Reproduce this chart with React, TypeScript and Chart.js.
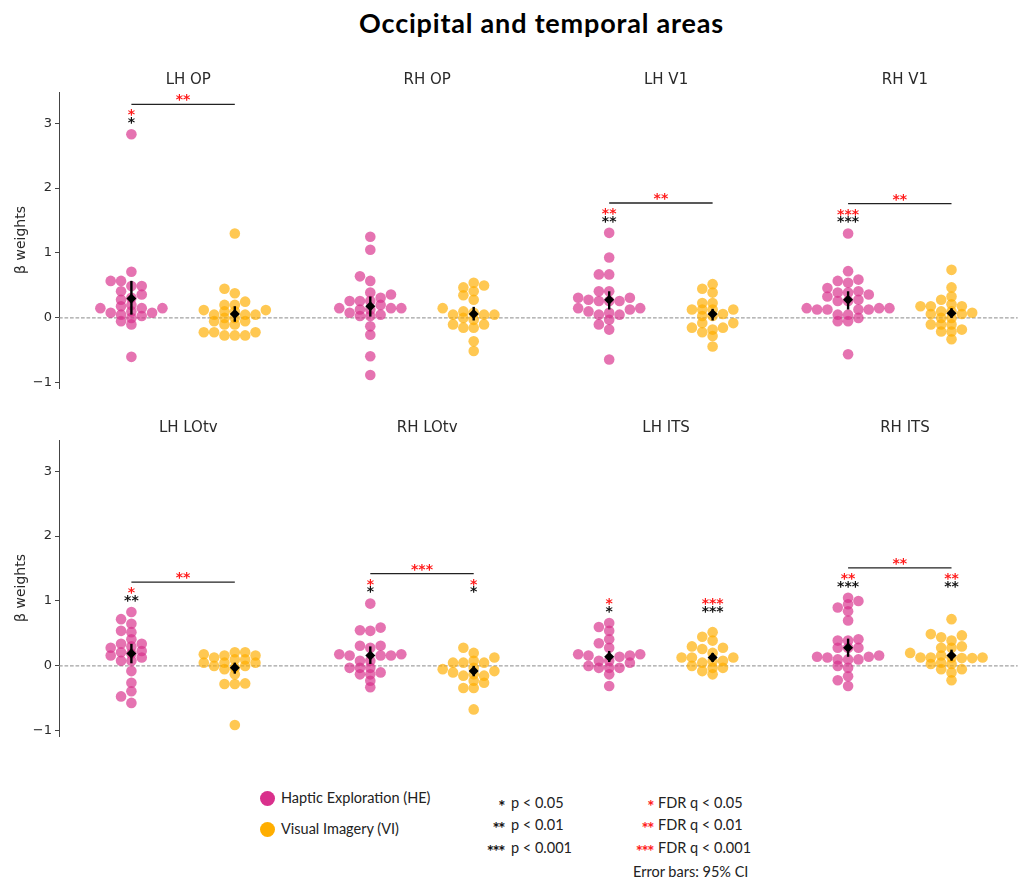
import React, { useEffect, useRef } from 'react';
import { Chart, registerables } from 'chart.js';

Chart.register(...registerables);

// ---- regions and beta weights (one array per region and condition) ----
const regions = ['LH OP', 'RH OP', 'LH V1', 'RH V1', 'LH LOtv', 'RH LOtv', 'LH ITS', 'RH ITS'];
const yTicks = [-1, 0, 1, 2, 3];

const lhOpHE = [0.49, 0.36, 0.15, -0.05, 0.15, 0.05, 0.57, 0.2, -0.1, 2.83, 0.71, 0.31, 0.03, -0.6, 0.57, 0.15, 0.0, 0.1, 0.08, 0.49, 0.41, 0.28, 0.18, 0.08];
const lhOpVI = [1.3, 0.45, 0.38, 0.25, 0.05, -0.05, 0.2, 0.1, 0.0, -0.1, -0.22, -0.22, 0.12, 0.05, 0.1, 0.05, -0.05, -0.27, -0.27, -0.27, 0.2, 0.12, 0.0, -0.1, -0.22];
const rhOpHE = [1.25, 1.05, 0.64, 0.57, 0.31, 0.15, -0.13, -0.26, -0.59, -0.88, 0.03, 0.26, 0.13, 0.36, 0.26, 0.15, 0.08, 0.03, 0.2, 0.13, 0.39, 0.26, 0.15, 0.05];
const rhOpVI = [0.54, 0.47, 0.41, 0.28, 0.15, 0.05, -0.15, -0.36, -0.51, 0.1, 0.0, -0.1, -0.15, 0.05, 0.05, 0.08, -0.03, -0.1, 0.5, 0.35];
const lhV1HE = [1.31, 0.93, 0.28, 0.05, -0.03, -0.1, -0.18, -0.64, 0.67, 0.41, 0.31, 0.26, 0.05, 0.31, 0.13, 0.15, 0.15, 0.26, 0.08, 0.67, 0.41, 0.26, 0.1];
const lhV1VI = [0.52, 0.39, 0.06, -0.15, -0.28, -0.44, 0.13, 0.13, 0.23, 0.13, 0.03, -0.08, -0.18, 0.23, 0.13, 0.03, -0.08, -0.15, 0.45, -0.22];
const rhV1HE = [1.3, 0.72, 0.59, 0.28, 0.13, 0.0, -0.56, 0.39, 0.39, 0.13, 0.15, 0.13, 0.13, 0.54, 0.41, 0.33, 0.26, 0.15, 0.05, -0.05, 0.57, 0.46, 0.36, 0.26, 0.15, 0.05, -0.05];
const rhV1VI = [0.74, 0.47, 0.06, -0.1, -0.21, -0.33, 0.33, 0.21, 0.1, 0.0, -0.1, -0.21, 0.28, 0.18, 0.1, 0.0, -0.1, -0.18, 0.06, 0.18, 0.18, 0.08];
const lhLotvHE = [0.83, 0.72, 0.65, 0.41, 0.34, 0.19, -0.08, -0.26, -0.39, -0.47, -0.57, 0.08, 0.08, 0.54, 0.28, 0.21, 0.13, 0.52, 0.34, 0.23, 0.16, 0.3];
const lhLotvVI = [0.21, 0.1, 0.0, -0.28, 0.16, 0.05, 0.21, 0.13, -0.03, -0.13, -0.27, -0.91, 0.18, 0.05, 0.16, 0.05, -0.05, -0.28, 0.1, 0.0];
const rhLotvHE = [0.96, 0.59, 0.28, 0.16, -0.03, -0.13, -0.23, -0.33, 0.16, 0.16, 0.55, 0.31, 0.18, 0.08, -0.03, -0.13, 0.54, 0.31, 0.18, 0.08, -0.03, -0.1];
const rhLotvVI = [0.28, 0.13, -0.08, -0.15, -0.67, 0.05, 0.05, 0.08, -0.03, -0.13, -0.23, -0.34, 0.05, -0.05, -0.15, -0.26, -0.34, 0.2, -0.1];
const lhItsHE = [0.66, 0.54, 0.41, 0.28, 0.14, -0.03, -0.13, -0.31, 0.16, 0.16, 0.18, 0.08, -0.03, 0.18, 0.08, -0.03, 0.6, 0.35, 0.0, 0.05];
const lhItsVI = [0.52, 0.39, 0.13, 0.0, -0.13, 0.08, 0.07, 0.26, 0.13, -0.03, 0.28, 0.13, -0.03, 0.45, 0.3, -0.08, 0.05, 0.2];
const rhItsHE = [1.05, 0.95, 0.84, 0.7, 0.39, 0.28, 0.1, -0.03, -0.16, -0.31, 0.1, 0.1, 0.14, 0.14, 0.41, 0.28, 0.13, 0.39, 0.28, 0.16, 1.0, 0.9, -0.22, 0.0];
const rhItsVI = [0.72, 0.49, 0.39, 0.16, 0.03, -0.05, -0.22, 0.13, 0.13, 0.12, 0.12, 0.44, 0.28, 0.13, 0.03, -0.1, 0.47, 0.28, 0.13, 0.05, -0.05, 0.3, 0.2];

const heValues = [lhOpHE, rhOpHE, lhV1HE, rhV1HE, lhLotvHE, rhLotvHE, lhItsHE, rhItsHE];
const viValues = [lhOpVI, rhOpVI, lhV1VI, rhV1VI, lhLotvVI, rhLotvVI, lhItsVI, rhItsVI];

// group means with 95% confidence intervals
const heMean = [0.3, 0.18, 0.28, 0.28, 0.19, 0.16, 0.14, 0.28];
const heCiLow = [0.05, 0.02, 0.13, 0.13, 0.04, 0.03, 0.06, 0.14];
const heCiHigh = [0.57, 0.33, 0.41, 0.41, 0.34, 0.3, 0.23, 0.42];
const viMean = [0.06, 0.06, 0.06, 0.07, -0.03, -0.08, 0.13, 0.16];
const viCiLow = [-0.06, -0.04, -0.04, 0.0, -0.12, -0.16, 0.06, 0.08];
const viCiHigh = [0.18, 0.17, 0.14, 0.15, 0.05, 0.0, 0.2, 0.25];

// number of stars: uncorrected p, FDR q, and HE vs VI comparison (FDR)
const heP = [1, 0, 2, 3, 2, 1, 1, 3];
const heQ = [1, 0, 2, 3, 1, 1, 1, 2];
const viP = [0, 0, 0, 0, 0, 1, 3, 2];
const viQ = [0, 0, 0, 0, 0, 1, 3, 2];
const diffQ = [2, 0, 2, 2, 2, 3, 0, 2];

// ---- styling ----
const HE_COLOR = 'rgba(217, 48, 140, 0.68)';
const VI_COLOR = 'rgba(255, 174, 0, 0.68)';
const PANEL_STRIDE = 2.31;
const X_MIN = -0.7;
const X_MAX = 8.57;
const Y_MIN = -1.08;
const Y_MAX = 3.48;
const TEXT_COLOR = '#2a2a2a';

// beeswarm-like column layout: returns x offsets (category units) for each value
function swarmOffsets(values: number[], colStep: number, minGap: number): number[] {
  const order = values.map((_, i) => i).sort((a, b) => values[a] - values[b]);
  const placed: { col: number; y: number }[] = [];
  const out = new Array(values.length).fill(0);
  for (const i of order) {
    const v = values[i];
    for (let k = 0; k < 60; k++) {
      const col = k === 0 ? 0 : k % 2 === 1 ? -Math.ceil(k / 2) : Math.ceil(k / 2);
      const clash = placed.some((p) => p.col === col && Math.abs(p.y - v) < minGap);
      if (!clash) {
        placed.push({ col, y: v });
        out[i] = col * colStep;
        break;
      }
    }
  }
  return out;
}

function starText(n: number) {
  return '*'.repeat(n);
}

function RowChart({ panels, top, height, padTop }: { panels: number[]; top: number; height: number; padTop: number }) {
  const ref = useRef<HTMLCanvasElement>(null);

  useEffect(() => {
    if (!ref.current) return;

    const hePoints: { x: number; y: number }[] = [];
    const viPoints: { x: number; y: number }[] = [];
    const meanPoints: { x: number; y: number }[] = [];
    panels.forEach((r, j) => {
      const base = j * PANEL_STRIDE;
      const heOff = swarmOffsets(heValues[r], 0.1, 0.1);
      const viOff = swarmOffsets(viValues[r], 0.1, 0.1);
      heValues[r].forEach((v, i) => hePoints.push({ x: base + heOff[i], y: v }));
      viValues[r].forEach((v, i) => viPoints.push({ x: base + 1 + viOff[i], y: v }));
      meanPoints.push({ x: base, y: heMean[r] });
      meanPoints.push({ x: base + 1, y: viMean[r] });
    });

    const drawStars = (ctx: CanvasRenderingContext2D, x: number, y: number, n: number, color: string) => {
      if (n <= 0) return;
      const size = 14;
      ctx.save();
      ctx.font = `bold ${size}px "DejaVu Sans"`;
      ctx.fillStyle = color;
      ctx.textAlign = 'center';
      ctx.textBaseline = 'alphabetic';
      ctx.fillText(starText(n), x, y + size * 0.58);
      ctx.restore();
    };

    const decor = {
      id: 'panelDecor',
      beforeDatasetsDraw(chart: any) {
        const { ctx, chartArea } = chart;
        const ys = chart.scales.y;
        const y0 = ys.getPixelForValue(0);
        ctx.save();
        ctx.strokeStyle = '#8a8a8a';
        ctx.lineWidth = 1;
        ctx.setLineDash([3.7, 1.8]);
        ctx.beginPath();
        ctx.moveTo(chartArea.left, y0);
        ctx.lineTo(chartArea.right, y0);
        ctx.stroke();
        ctx.restore();
      },
      beforeDatasetDraw(chart: any, args: any) {
        if (args.index !== 2) return;
        const { ctx } = chart;
        const xs = chart.scales.x;
        const ys = chart.scales.y;
        ctx.save();
        ctx.strokeStyle = '#000';
        ctx.lineWidth = 2.4;
        panels.forEach((r, j) => {
          const base = j * PANEL_STRIDE;
          const bars = [
            [base, heCiLow[r], heCiHigh[r]],
            [base + 1, viCiLow[r], viCiHigh[r]],
          ];
          bars.forEach(([x, lo, hi]) => {
            const px = xs.getPixelForValue(x);
            ctx.beginPath();
            ctx.moveTo(px, ys.getPixelForValue(lo));
            ctx.lineTo(px, ys.getPixelForValue(hi));
            ctx.stroke();
          });
        });
        ctx.restore();
      },
      afterDatasetsDraw(chart: any) {
        const { ctx, chartArea } = chart;
        const xs = chart.scales.x;
        const ys = chart.scales.y;
        panels.forEach((r, j) => {
          const base = j * PANEL_STRIDE;
          // panel title
          ctx.save();
          ctx.font = '15px "DejaVu Sans"';
          ctx.fillStyle = TEXT_COLOR;
          ctx.textAlign = 'center';
          ctx.textBaseline = 'middle';
          ctx.fillText(regions[r], xs.getPixelForValue(base + 0.55), chartArea.top - 12);
          ctx.restore();

          const top = Math.max(...heValues[r], ...viValues[r]);
          const pHe = xs.getPixelForValue(base);
          const pVi = xs.getPixelForValue(base + 1);
          const yP = ys.getPixelForValue(top + 0.235);
          const yQ = ys.getPixelForValue(top + 0.355);
          drawStars(ctx, pHe, yP, heP[r], '#111');
          drawStars(ctx, pHe, yQ, heQ[r], '#ff1a1a');
          drawStars(ctx, pVi, yP, viP[r], '#111');
          drawStars(ctx, pVi, yQ, viQ[r], '#ff1a1a');
          if (diffQ[r] > 0) {
            const yB = ys.getPixelForValue(top + 0.46);
            ctx.save();
            ctx.strokeStyle = '#222';
            ctx.lineWidth = 1.3;
            ctx.beginPath();
            ctx.moveTo(pHe, yB);
            ctx.lineTo(pVi, yB);
            ctx.stroke();
            ctx.restore();
            drawStars(ctx, (pHe + pVi) / 2, ys.getPixelForValue(top + 0.585), diffQ[r], '#ff1a1a');
          }
        });
      },
    };

    const chart = new Chart(ref.current, {
      type: 'scatter',
      data: {
        datasets: [
          { label: 'Haptic Exploration (HE)', data: hePoints, backgroundColor: HE_COLOR, borderWidth: 0, pointRadius: 5.3, order: 2 },
          { label: 'Visual Imagery (VI)', data: viPoints, backgroundColor: VI_COLOR, borderWidth: 0, pointRadius: 5.3, order: 1 },
          { label: 'mean', data: meanPoints, backgroundColor: '#000', borderWidth: 0, pointRadius: 5, pointStyle: 'rectRot', order: 0 },
        ],
      },
      options: {
        animation: false,
        responsive: false,
        maintainAspectRatio: false,
        events: [],
        layout: { padding: { top: padTop, bottom: 12, left: 0, right: 0 } },
        plugins: { legend: { display: false }, tooltip: { enabled: false } },
        scales: {
          x: { type: 'linear', min: X_MIN, max: X_MAX, display: false },
          y: {
            type: 'linear',
            min: Y_MIN,
            max: Y_MAX,
            afterBuildTicks: (s: any) => {
              s.ticks = yTicks.map((v) => ({ value: v }));
            },
            afterFit: (s: any) => {
              s.width = 59;
            },
            ticks: {
              font: { family: 'DejaVu Sans', size: 13 },
              color: TEXT_COLOR,
              padding: 3,
              callback: (v: any) => (v < 0 ? '\u2212' + Math.abs(v) : String(v)),
            },
            grid: { display: true, drawOnChartArea: false, drawTicks: true, tickLength: 4, color: '#444', lineWidth: 1 },
            border: { display: true, color: '#444', width: 1 },
            title: {
              display: true,
              text: 'β weights',
              font: { family: 'DejaVu Sans', size: 14 },
              color: TEXT_COLOR,
              padding: { top: 13, bottom: 0 },
            },
          },
        },
      },
      plugins: [decor],
    });
    return () => chart.destroy();
  }, [panels, top, height, padTop]);

  return (
    <canvas
      ref={ref}
      width={1023}
      height={height}
      style={{ position: 'absolute', left: 0, top, width: 1023, height }}
    />
  );
}

const topRow = [0, 1, 2, 3];
const bottomRow = [4, 5, 6, 7];

const legendFont = 'Lato, "Open Sans", sans-serif';

function Stars({ n, color }: { n: number; color: string }) {
  return (
    <span style={{ color, position: 'relative', top: 4, fontWeight: 700, fontSize: 17, letterSpacing: -1.5 }}>
      {'*'.repeat(n)}
    </span>
  );
}

export default function App() {
  const rowText: React.CSSProperties = {
    position: 'absolute',
    fontFamily: legendFont,
    fontSize: 14.5,
    color: '#222',
    lineHeight: 1,
    whiteSpace: 'nowrap',
    transform: 'translateY(-50%)',
  };
  const dot = (color: string, cy: number): React.CSSProperties => ({
    position: 'absolute',
    left: 259.5,
    top: cy - 7.5,
    width: 15,
    height: 15,
    borderRadius: '50%',
    background: color,
  });
  const pRows = [
    { n: 1, label: 'p < 0.05', y: 803 },
    { n: 2, label: 'p < 0.01', y: 825 },
    { n: 3, label: 'p < 0.001', y: 848 },
  ];
  const qRows = [
    { n: 1, label: 'FDR q < 0.05', y: 803 },
    { n: 2, label: 'FDR q < 0.01', y: 825 },
    { n: 3, label: 'FDR q < 0.001', y: 848 },
  ];
  return (
    <div style={{ position: 'fixed', left: 0, top: 0, width: 1023, height: 884, background: '#fff', overflow: 'hidden' }}>
      <div
        style={{
          position: 'absolute',
          left: 0,
          width: 1083,
          top: 22,
          transform: 'translateY(-50%)',
          textAlign: 'center',
          fontFamily: legendFont,
          fontWeight: 700,
          fontSize: 27,
          letterSpacing: 0.8,
          lineHeight: 1,
          color: '#000',
        }}
      >
        Occipital and temporal areas
      </div>

      <RowChart panels={topRow} top={60} height={340} padTop={32} />
      <RowChart panels={bottomRow} top={400} height={348} padTop={40} />

      <div style={dot('#d9308c', 798)} />
      <div style={{ ...rowText, left: 281, top: 798 }}>Haptic Exploration (HE)</div>
      <div style={dot('#ffae00', 829)} />
      <div style={{ ...rowText, left: 281, top: 829 }}>Visual Imagery (VI)</div>

      {pRows.map((r) => (
        <React.Fragment key={r.label}>
          <div style={{ ...rowText, right: 1023 - 504, top: r.y }}>
            <Stars n={r.n} color="#111" />
          </div>
          <div style={{ ...rowText, left: 511, top: r.y }}>{r.label}</div>
        </React.Fragment>
      ))}
      {qRows.map((r) => (
        <React.Fragment key={r.label}>
          <div style={{ ...rowText, right: 1023 - 653, top: r.y }}>
            <Stars n={r.n} color="#ff1a1a" />
          </div>
          <div style={{ ...rowText, left: 658, top: r.y }}>{r.label}</div>
        </React.Fragment>
      ))}
      <div style={{ ...rowText, left: 633, top: 872 }}>Error bars: 95% CI</div>
    </div>
  );
}
